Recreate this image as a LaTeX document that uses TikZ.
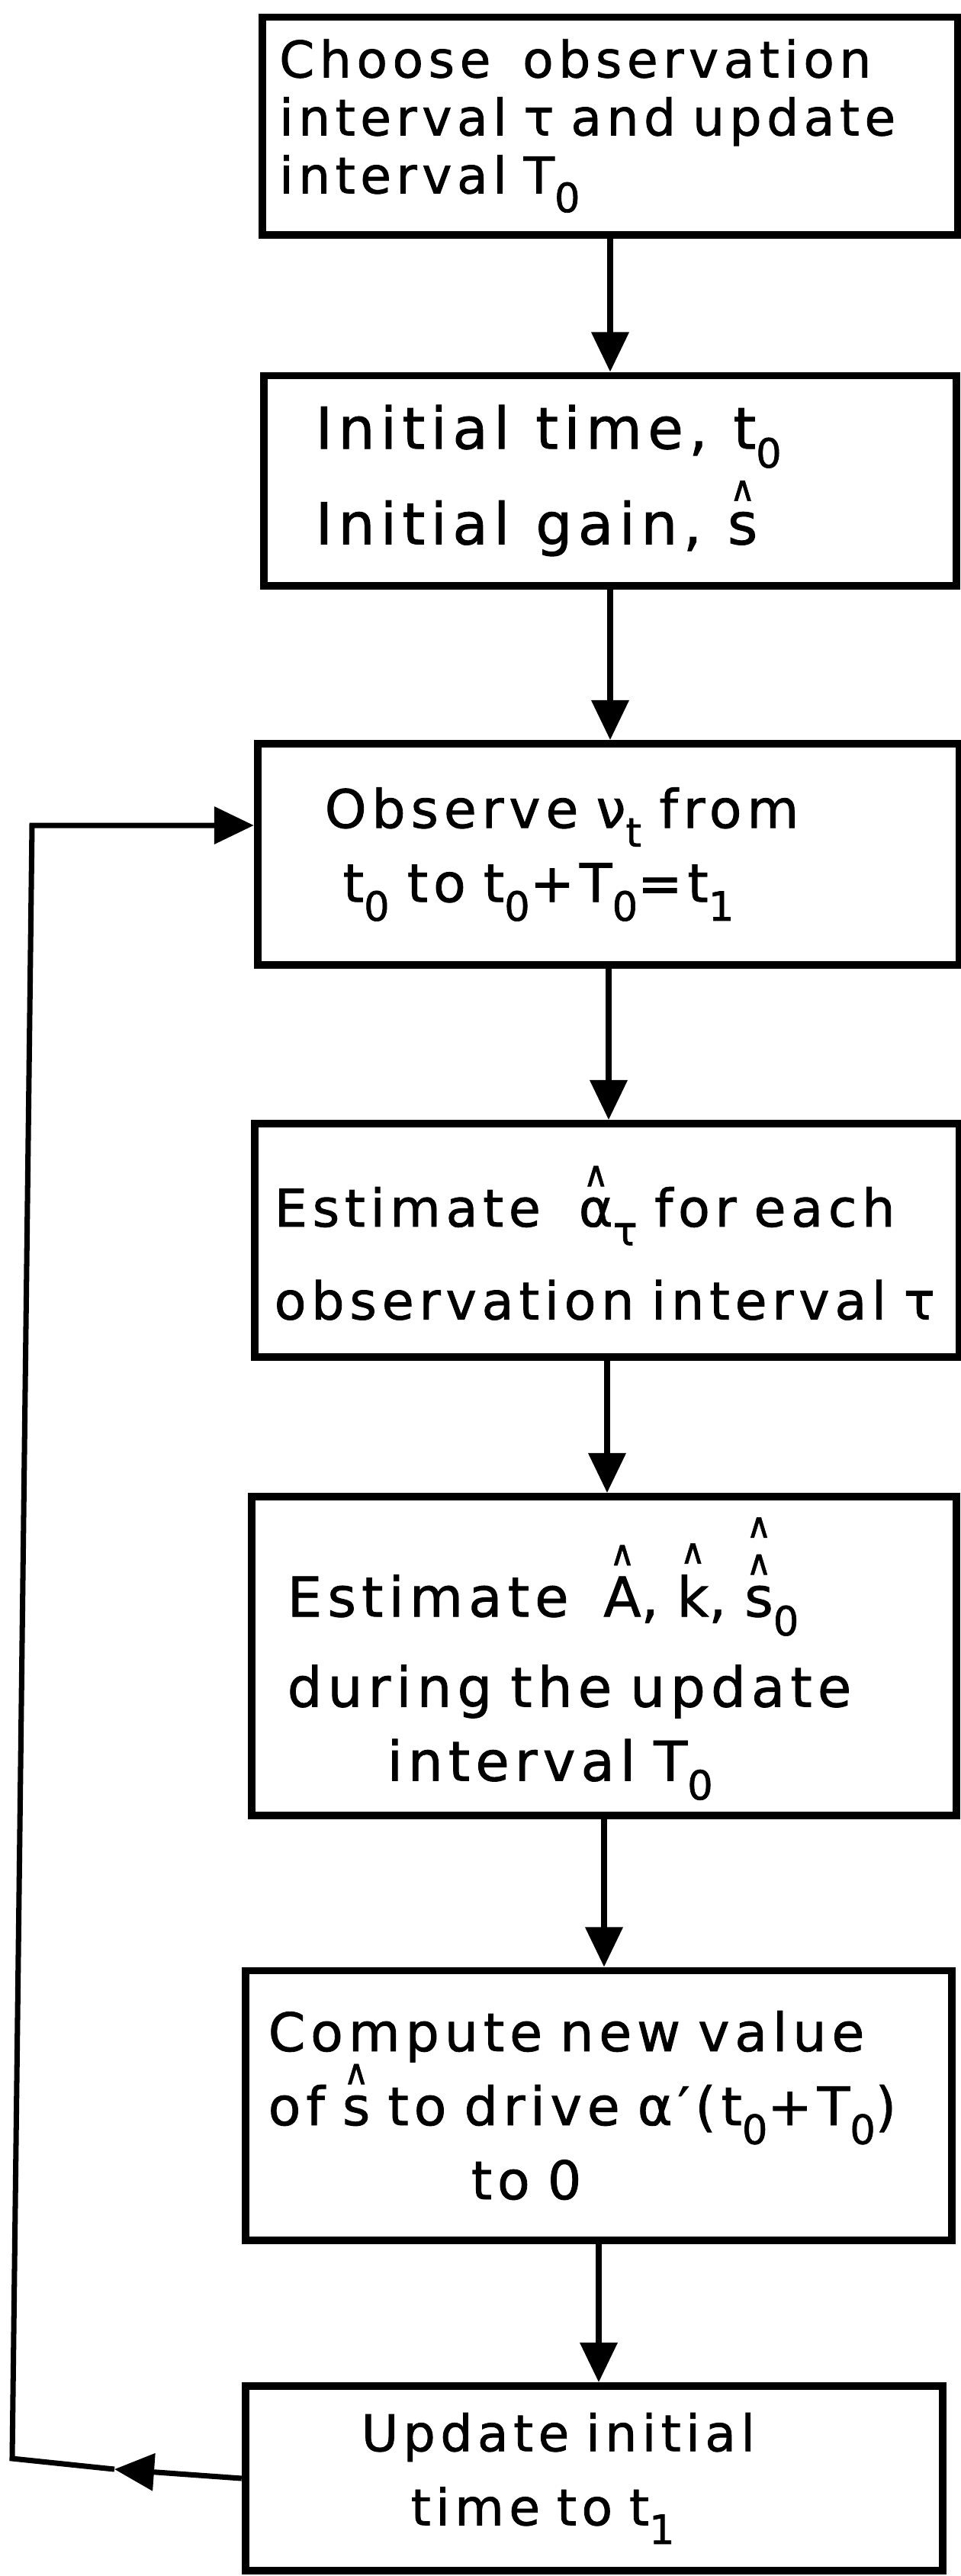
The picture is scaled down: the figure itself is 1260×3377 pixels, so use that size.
\documentclass[tikz,border=0pt]{standalone}
\usepackage{fontspec}
\usepackage{amsmath}
\setmainfont{DejaVu Sans}[LetterSpace=10,WordSpace=1.6,FakeBold=1.2]
\usetikzlibrary{arrows.meta}
\newcommand{\HatOf}[1]{\ensuremath{\overset{\text{\fontsize{13}{13}\selectfont\addfontfeature{LetterSpace=0}∧}}{\text{#1}}}}
\newcommand{\LowSub}[1]{\raisebox{-7pt}{\fontsize{15}{15}\selectfont #1}}
\newcommand{\FlowFont}[1]{\fontsize{#1}{21.6}\selectfont\lineskiplimit=-50pt\hyphenpenalty=10000}
\tikzset{
  stepbox/.style={draw, line width=2.8pt, align=left, font=\FlowFont{#1}, inner ysep=0pt},
  stepbox/.default=18.8,
  flowline/.style={line width=2pt},
  flowarrow/.style={flowline, -{Triangle[width=0.48cm,length=0.52cm]}}
}

\begin{document}
\begin{tikzpicture}[x=0.01cm,y=-0.01cm]
\useasboundingbox (0,0) rectangle (1260,3377);

\node[stepbox,text width=8.67cm,inner xsep=0.22cm,minimum height=2.85cm] (choose) at (800,165) {
Choose\hspace{0.3em} observation\\
interval τ and update\\
interval T\LowSub{0}};
\node[stepbox=21.5,text width=7.72cm,inner xsep=0.68cm,minimum height=2.75cm] (init) at (800,630) {
\spaceskip=0.45em plus 0.1em Initial time, t\LowSub{0}\\[14pt]
Initial gain, \HatOf{s}};
\node[stepbox=19.8,text width=7.44cm,inner xsep=0.88cm,minimum height=2.90cm] (observe) at (798,1120) {
Observe ν\LowSub{t} from\\[6pt]
\hspace*{0.24cm}t\LowSub{0} to t\LowSub{0}+T\LowSub{0}=t\LowSub{1}};
\node[stepbox=19.4,text width=8.72cm,inner xsep=0.26cm,minimum height=3.06cm] (alpha) at (796,1626) {
Estimate\hspace{0.4em} \HatOf{α}\LowSub{τ} for each\\[13pt]
\mbox{observation interval τ}};
\node[stepbox=20.5,text width=8.30cm,inner xsep=0.47cm,minimum height=4.18cm] (params) at (792,2171) {
Estimate\hspace{0.3em} \HatOf{A}, \HatOf{k}, \ensuremath{\overset{\text{\fontsize{13}{13}\selectfont ∧}}{\HatOf{s}}}\LowSub{0}\\[12pt]
during the update\\[6pt]
\hspace*{1.31cm}interval T\LowSub{0}};
\node[stepbox=19.8,text width=8.66cm,inner xsep=0.30cm,minimum height=3.53cm] (gain) at (785,2760) {
Compute new value\\[6pt]
of \HatOf{s} to drive α′(t\LowSub{0}+T\LowSub{0})\\[6pt]
\hspace*{2.66cm}to 0};
\node[stepbox,text width=6.10cm,inner xsep=1.52cm,minimum height=2.42cm] (update) at (779,3249) {
Update initial\\[6pt]
\hspace*{0.65cm}time to t\LowSub{1}};

% main flow
\draw[flowarrow] (choose.south) -- (choose.south |- init.north);
\draw[flowarrow] (init.south) -- (init.south |- observe.north);
\draw[flowarrow] (observe.south) -- (observe.south |- alpha.north);
\draw[flowarrow] (alpha.south) -- (alpha.south |- params.north);
\draw[flowarrow] (params.south) -- (params.south |- gain.north);
\draw[flowarrow] (gain.south) -- (gain.south |- update.north);

% feedback loop
\coordinate (backTip) at (150,3237);
\coordinate (backLow) at (16,3223);
\coordinate (backHigh) at (42,1082);
\draw[flowarrow] (update.west) -- (backTip);
\draw[flowarrow] (backTip) -- (backLow) -- (backHigh) -- (backHigh -| observe.west);
\end{tikzpicture}
\end{document}
